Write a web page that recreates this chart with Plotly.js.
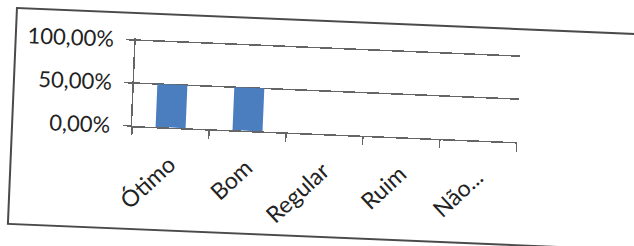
<!DOCTYPE html>
<html>
<head>
<meta charset="utf-8">
<script src="https://cdn.plot.ly/plotly-3.0.1.min.js"></script>
<style>
  html, body { margin: 0; padding: 0; background: #ffffff; overflow: hidden; width: 634px; height: 246px; }
  #frame {
    position: absolute; left: 16px; top: 7px;
    width: 700px; height: 214px;
    border: 2px solid #4a4a4a;
    transform: rotate(2.4deg); transform-origin: 0 0;
    background: #ffffff;
  }
  #chart { width: 700px; height: 214px; }
</style>
</head>
<body>
<div id="frame"><div id="chart"></div></div>
<script>
const categories = ["Ótimo", "Bom", "Regular", "Ruim", "Não..."];
const percentages = [0.50, 0.50, 0, 0, 0];
const yTicks = [0, 0.5, 1];

const lineColor = "#656565";
const textColor = "#222222";
const fontFamily = "Lato, 'Liberation Sans', sans-serif";

const trace = {
  type: "bar",
  x: categories,
  y: percentages,
  width: 0.39,
  marker: { color: "#4a7ebe", line: { width: 0 } },
  hoverinfo: "skip"
};

const layout = {
  width: 700, height: 214,
  margin: { l: 119, r: 196, t: 24, b: 102, pad: 0 },
  paper_bgcolor: "rgba(0,0,0,0)",
  plot_bgcolor: "rgba(0,0,0,0)",
  separators: ",.",
  showlegend: false,
  font: { family: fontFamily, size: 22, color: textColor },
  xaxis: {
    type: "category",
    tickson: "boundaries",
    ticks: "outside", ticklen: 8, tickcolor: lineColor, tickwidth: 1.5,
    showline: true, linecolor: lineColor, linewidth: 1.5,
    showgrid: false, zeroline: false,
    tickangle: -45,
    ticklabelstandoff: 13,
    tickfont: { family: fontFamily, size: 23, color: textColor }
  },
  yaxis: {
    range: [0, 1.023],
    tickvals: yTicks,
    tickformat: ".2%",
    ticks: "outside", ticklen: 8, tickcolor: lineColor, tickwidth: 1.5,
    showline: true, linecolor: lineColor, linewidth: 1.5,
    showgrid: true, gridcolor: lineColor, gridwidth: 1.5,
    zeroline: false,
    ticklabelstandoff: 8,
    tickfont: { family: fontFamily, size: 22, color: textColor }
  }
};

Plotly.newPlot("chart", [trace], layout, { staticPlot: true, displayModeBar: false });
</script>
</body>
</html>
